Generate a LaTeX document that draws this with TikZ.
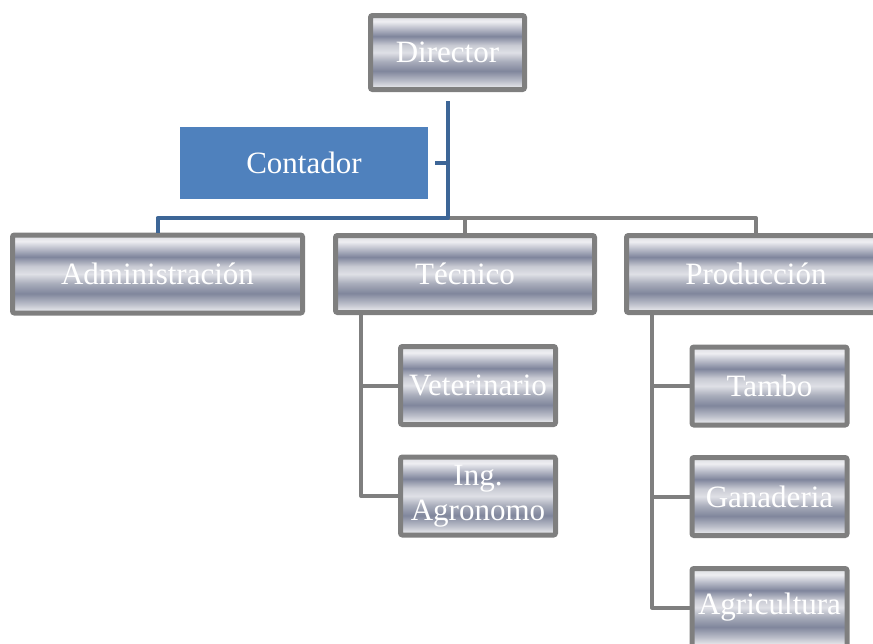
\documentclass[tikz,border=0pt]{standalone}
\usepackage{fontspec}
\setmainfont{Liberation Serif}
\usetikzlibrary{calc}
\definecolor{boxgray}{HTML}{7F7F7F}
\definecolor{lineblue}{HTML}{3D6697}
\definecolor{contblue}{HTML}{4F81BD}
\definecolor{m0}{HTML}{9DA1B0}
\definecolor{m1}{HTML}{E0E1E6}
\definecolor{m2}{HTML}{B9BCC8}
\definecolor{m3}{HTML}{80869C}
\definecolor{m4}{HTML}{A9ADBB}
\definecolor{m5}{HTML}{DFE0E6}
\definecolor{m6}{HTML}{C8CAD3}
\definecolor{m7}{HTML}{7F859C}
\definecolor{m8}{HTML}{EEEEF2}
\definecolor{m9}{HTML}{DADBE0}
\pgfdeclareverticalshading{metal}{100bp}{color(0bp)=(m0); color(25bp)=(m0); color(27bp)=(m1); color(31bp)=(m2); color(37.5bp)=(m3); color(44bp)=(m4); color(50bp)=(m5); color(55bp)=(m6); color(61bp)=(m7); color(71bp)=(m8); color(75bp)=(m9); color(100bp)=(m9)}
\begin{document}
\begin{tikzpicture}[x=1pt, y=-1pt,
    main/.style = {draw=boxgray, line width=5pt, rounded corners=2pt, shade, shading=metal, text=white, inner sep=0pt, font=\fontsize{31}{35}\selectfont, align=center},
    big/.style = {main, minimum width=259pt, minimum height=77pt},
    small/.style = {main, minimum width=155pt, minimum height=78pt},
    grayline/.style = {draw=boxgray, line width=4pt, line join=round},
    blueline/.style = {draw=lineblue, line width=4pt, line join=round}]
    \useasboundingbox (0,0) rectangle (873,643);
    \clip (0,0) rectangle (873,643);
    \node[main, minimum width=154pt, minimum height=74pt] (dir) at (447.5,52.5) {Director};
    \node[fill=contblue, text=white, minimum width=248pt, minimum height=72pt, font=\fontsize{31}{35}\selectfont] (cont) at (304,163) {Contador};
    \node[main, minimum width=290pt, minimum height=78pt] (adm) at (157.5,274) {Administración};
    \node[big] (tec) at (465,274) {Técnico};
    \node[big] (prod) at (756,274) {Producción};
    \node[small] (vet) at (478,385.5) {Veterinario};
    \node[small] (ing) at (478,496) {Ing.\\Agronomo};
    \node[small] (tambo) at (769.5,386) {Tambo};
    \node[small] (gan) at (769.5,496.5) {Ganaderia};
    \node[small] (agr) at (769.5,607.5) {Agricultura};
    \coordinate (hub) at (447.5,218);
    \draw[grayline] (hub) -| (prod.north);
    \draw[grayline] (hub -| tec.north) -- (tec.north);
    \draw[blueline] ([yshift=-9pt]dir.south) -- (hub) -| (adm.north);
    \draw[blueline] ([xshift=7pt]cont.east) -- (cont.east -| hub);
    \draw[grayline] ([xshift=28pt]tec.south west) |- (vet.west);
    \draw[grayline] ([xshift=28pt]tec.south west) |- (ing.west);
    \draw[grayline] ([xshift=28pt]prod.south west) |- (tambo.west);
    \draw[grayline] ([xshift=28pt]prod.south west) |- (gan.west);
    \draw[grayline] ([xshift=28pt]prod.south west) |- (agr.west);
  \end{tikzpicture}
\end{document}
